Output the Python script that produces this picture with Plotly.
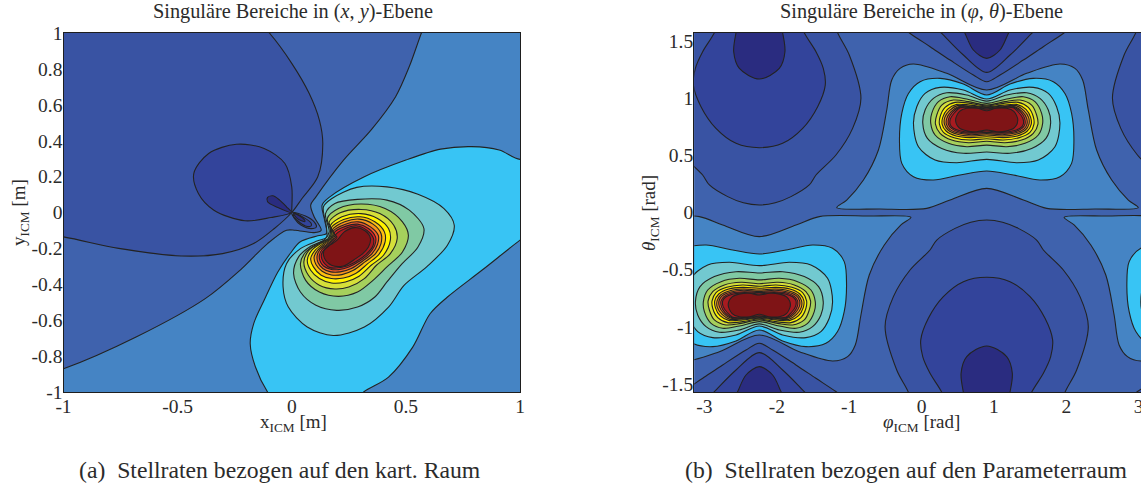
import math
import plotly.graph_objects as go

# ---------- text ----------
title_a = "Singuläre Bereiche in (<i>x</i>, <i>y</i>)-Ebene"
title_b = "Singuläre Bereiche in (<i>φ</i>, <i>θ</i>)-Ebene"
xlabel_a = "x<sub>ICM</sub> [m]"
ylabel_a = "y<sub>ICM</sub> [m]"
xlabel_b = "<i>φ</i><sub>ICM</sub> [rad]"
ylabel_b = "<i>θ</i><sub>ICM</sub> [rad]"
caption_a = "(a)  Stellraten bezogen auf den kart. Raum"
caption_b = "(b)  Stellraten bezogen auf den Parameterraum"

ticks_a_x = [-1, -0.5, 0, 0.5, 1]
ticks_a_y = [-1, -0.8, -0.6, -0.4, -0.2, 0, 0.2, 0.4, 0.6, 0.8, 1]
ticks_b_x = [-3, -2, -1, 0, 1, 2, 3]
ticks_b_y = [-1.5, -1, -0.5, 0, 0.5, 1, 1.5]

# ---------- level colours ----------
C_MID = "#4584c4"; C_B = "#3f62ad"; C_C = "#3953a3"; C_D = "#33449b"; C_E = "#2a2c80"
C_CYAN = "#38c4f4"; C_TEAL = "#72c9d0"; C_GREEN = "#80c9a4"; C_YGREEN = "#a6d05c"
C_LIME = "#d6df3a"; C_YELLOW = "#fff200"; C_AMBER = "#fdc010"; C_ORANGE = "#f7941d"
C_DKOR = "#f15a29"; C_RED = "#e31e24"; C_CRIM = "#a81b20"; C_PEAK = "#7f1416"

# ---------- panel (a): contour outlines in (x, y) metres ----------
a_b = [(.65,1.6),(.6,1.1),(.568,1),(.515,.813),(.455,.645),(.348,.46),(.227,.292),(.106,.087),(.083,.041),(.098,-.024),(.129,-.099),(.098,-.112),(.015,-.099),(-.023,-.099),(-.106,-.173),(-.227,-.322),(-.379,-.48),(-.682,-.694),(-1,-.871),(-1.3,-.98),(-1.6,-1.0),(-1.6,1.6)]
a_c = [(-.25,1.6),(-.16,1.08),(-.098,1),(0,.831),(.076,.664),(.121,.515),(.136,.385),(.114,.199),(.045,.078),(0,0),(-.076,-.089),(-.167,-.173),(-.303,-.229),(-.485,-.242),(-.758,-.2),(-1,-.136),(-1.3,-.08),(-1.6,-.05),(-1.6,1.6)]
a_d = [(0,.013),(0,.143),(-.03,.273),(-.121,.357),(-.242,.38),(-.364,.329),(-.429,.218),(-.409,.106),(-.341,.013),(-.205,-.046),(-.091,-.028),(0,0)]
a_e = [(0,0),(-.061,.028),(-.106,.06),(-.106,.084),(-.083,.093),(-.053,.069),(-.023,.032)]
a_loop1 = [(0,0),(.06,-.02),(.10,-.055),(.108,-.08),(.085,-.09),(.04,-.07),(.01,-.03)]
a_loop2 = [(.008,-.005),(.055,-.03),(.085,-.06),(.085,-.075),(.06,-.075),(.03,-.05),(.008,-.02)]
a_loop3 = [(.01,-.008),(.035,-.02),(.055,-.04),(.058,-.05),(.04,-.045),(.02,-.028)]
a_cyan = [(1.2,.1),(1.1,.33),(1,.296),(.909,.348),(.788,.367),(.652,.353),(.5,.292),(.318,.199),(.167,.087),(.133,.041),(.144,-.043),(.152,-.117),(.114,-.13),(.036,-.164),(-.006,-.227),(-.061,-.331),(-.121,-.489),(-.167,-.62),(-.182,-.731),(-.159,-.861),(-.106,-1),(-.04,-1.1),(.25,-1.08),(.315,-1),(.424,-.917),(.53,-.75),(.606,-.564),(.682,-.471),(.833,-.322),(1,-.154),(1.1,-.06)]
a_teal = [(.139,.032),(.176,.078),(.285,.14),(.417,.143),(.553,.102),(.667,.022),(.712,-.071),(.682,-.182),(.591,-.303),(.492,-.406),(.424,-.527),(.318,-.638),(.182,-.685),(.068,-.638),(-.015,-.527),(-.038,-.415),(-.023,-.285),(.038,-.201),(.114,-.158),(.152,-.139),(.152,-.08)]
a_green = [(.148,-.006),(.189,.05),(.288,.073),(.417,.069),(.515,.013),(.579,-.089),(.553,-.192),(.477,-.294),(.417,-.387),(.364,-.471),(.288,-.527),(.197,-.545),(.106,-.517),(.038,-.443),(.008,-.34),(.03,-.247),(.083,-.188),(.144,-.151),(.164,-.108)]
a_ygreen = [(.156,-.033),(.205,.022),(.303,.047),(.409,.022),(.485,-.052),(.511,-.127),(.485,-.22),(.417,-.303),(.356,-.378),(.288,-.443),(.205,-.467),(.121,-.443),(.061,-.378),(.038,-.285),(.061,-.22),(.114,-.173),(.159,-.145),(.17,-.099)]
a_lime = [(.164,-.052),(.212,-.002),(.303,.017),(.386,-.006),(.447,-.071),(.462,-.145),(.432,-.229),(.371,-.294),(.318,-.368),(.25,-.415),(.189,-.426),(.121,-.405),(.073,-.35),(.053,-.275),(.076,-.21),(.129,-.167),(.164,-.145),(.174,-.099)]
a_yellow = [(.17,-.071),(.22,-.024),(.303,-.006),(.376,-.033),(.424,-.089),(.432,-.154),(.402,-.238),(.348,-.294),(.295,-.355),(.235,-.387),(.174,-.393),(.121,-.368),(.083,-.322),(.068,-.266),(.088,-.21),(.133,-.169),(.17,-.145),(.177,-.108)]
a_amber = [(.174,-.084),(.227,-.039),(.3,-.024),(.364,-.052),(.406,-.108),(.409,-.164),(.382,-.233),(.333,-.285),(.28,-.34),(.227,-.365),(.174,-.368),(.129,-.35),(.095,-.303),(.083,-.257),(.103,-.21),(.139,-.173),(.171,-.147),(.182,-.113)]
a_orange = [(.179,-.095),(.232,-.052),(.295,-.037),(.356,-.065),(.391,-.117),(.391,-.173),(.367,-.229),(.321,-.275),(.27,-.322),(.22,-.346),(.174,-.348),(.133,-.327),(.106,-.29),(.098,-.247),(.114,-.21),(.144,-.177),(.174,-.149),(.185,-.121)]
a_dkor = [(.182,-.104),(.235,-.065),(.292,-.052),(.345,-.08),(.379,-.127),(.376,-.177),(.352,-.229),(.311,-.27),(.261,-.312),(.212,-.331),(.171,-.331),(.136,-.312),(.115,-.279),(.111,-.242),(.124,-.206),(.152,-.179),(.179,-.151),(.189,-.127)]
a_red = [(.186,-.113),(.238,-.076),(.288,-.065),(.336,-.089),(.367,-.136),(.364,-.182),(.336,-.233),(.298,-.27),(.25,-.303),(.205,-.318),(.17,-.316),(.139,-.298),(.124,-.27),(.121,-.238),(.133,-.206),(.159,-.179),(.182,-.154),(.194,-.132)]
a_crim = [(.192,-.125),(.235,-.089),(.283,-.074),(.329,-.099),(.358,-.145),(.355,-.188),(.326,-.233),(.291,-.266),(.242,-.298),(.197,-.309),(.167,-.307),(.144,-.285),(.132,-.26),(.13,-.233),(.142,-.206),(.167,-.179),(.186,-.158),(.198,-.138)]
a_peak = [(.205,-.145),(.23,-.108),(.276,-.084),(.321,-.102),(.345,-.145),(.336,-.192),(.311,-.229),(.28,-.257),(.227,-.298),(.174,-.294),(.144,-.257),(.141,-.214),(.167,-.182),(.189,-.164)]

# ---------- panel (b): outlines in (phi, theta) rad ----------
b_axis_phi = 0.9  # symmetry line of the upper peak
b_mid = [(-1.172,.042),(-1.034,.109),(-.803,.284),(-.596,.547),(-.481,.897),(-.412,1.159),(-.297,1.261),(-.113,1.299),(.348,1.218),(.9,1.072),(1.453,1.218),(1.913,1.299),(2.12,1.261),(2.226,1.159),(2.304,.897),(2.419,.547),(2.627,.284),(2.857,.109),(2.995,.042),(2.396,.031),(1.729,.036),(1.407,.109),(.9,.211),(.394,.109),(.071,.036),(-.573,.031)]
# right halves, from the top notch round to the bottom notch
b_cyan = [(.9,1.028),(1.222,1.124),(1.544,1.174),(1.82,1.145),(1.981,1.042),(2.073,.868),(2.105,.634),(2.073,.43),(1.912,.313),(1.636,.284),(1.268,.328),(.9,.363)]
b_teal = [(.9,.993),(1.222,1.072),(1.544,1.095),(1.751,1.042),(1.866,.926),(1.912,.78),(1.843,.576),(1.613,.459),(1.314,.436),(.9,.465)]
b_green = [(.9,.975),(1.176,1.028),(1.452,1.048),(1.636,.999),(1.751,.897),(1.783,.78),(1.719,.649),(1.521,.561),(1.222,.518),(.9,.529)]
b_ygreen = [(.9,.955),(1.176,.993),(1.406,1.013),(1.567,.97),(1.659,.868),(1.673,.78),(1.613,.678),(1.429,.605),(1.176,.576),(.9,.59)]
b_lime = [(.9,.94),(1.153,.97),(1.36,.984),(1.521,.94),(1.59,.853),(1.608,.774),(1.544,.693),(1.383,.634),(1.153,.611),(.9,.623)]
b_yellow = [(.9,.932),(1.13,.955),(1.337,.964),(1.475,.92),(1.544,.838),(1.553,.774),(1.498,.701),(1.351,.655),(1.13,.634),(.9,.646)]
b_amber = [(.9,.926),(1.13,.94),(1.314,.946),(1.443,.903),(1.507,.832),(1.516,.774),(1.461,.713),(1.323,.669),(1.13,.655),(.9,.663)]
b_orange = [(.9,.92),(1.13,.932),(1.305,.935),(1.415,.891),(1.48,.83),(1.484,.774),(1.434,.722),(1.305,.684),(1.121,.669),(.9,.678)]
b_dkor = [(.9,.914),(1.107,.926),(1.291,.926),(1.392,.882),(1.452,.824),(1.457,.774),(1.411,.728),(1.291,.695),(1.116,.681),(.9,.69)]
b_red = [(.9,.908),(1.107,.92),(1.282,.92),(1.374,.876),(1.424,.824),(1.429,.774),(1.388,.736),(1.277,.704),(1.107,.693),(.9,.701)]
b_crim = [(.9,.903),(1.084,.917),(1.268,.917),(1.346,.873),(1.401,.821),(1.406,.774),(1.365,.739),(1.259,.713),(1.102,.701),(.9,.713)]
b_peak = [(.9,.891),(1.029,.912),(1.176,.912),(1.275,.885),(1.33,.81),(1.28,.74),(1.167,.712),(1.038,.707),(.9,.722)]
# lobes, right halves, run out past the top / bottom of the frame
b_top_c = [(.9,1.144),(1.084,1.203),(1.406,1.334),(1.682,1.451),(1.958,1.567),(2.142,1.654),(2.3,1.9),(.9,1.9)]
b_top_d = [(.9,1.226),(1.222,1.378),(1.521,1.567),(1.682,1.669),(1.7,1.9),(.9,1.9)]
b_top_e = [(.9,1.349),(1.084,1.422),(1.199,1.567),(1.291,1.684),(1.3,1.9),(.9,1.9)]
b_low_c = [(.9,-.066),(1.12,-.085),(1.337,-.139),(1.59,-.241),(1.683,-.328),(1.959,-.503),(2.189,-.736),(2.304,-.999),(2.143,-1.378),(1.982,-1.573),(1.867,-1.786),(1.5,-1.9),(.9,-1.9)]
b_low_d = [(.9,-.567),(1.222,-.605),(1.499,-.736),(1.706,-.926),(1.811,-1.115),(1.784,-1.261),(1.683,-1.407),(1.521,-1.573),(1.406,-1.757),(1.2,-1.9),(.9,-1.9)]
b_low_e = [(.9,-1.168),(1.176,-1.261),(1.254,-1.407),(1.222,-1.573),(1.176,-1.7),(.9,-1.9)]

LINE = "#232323"


def add(fig, pts, color, xa, ya, closed=True):
    xs = [p[0] for p in pts]
    ys = [p[1] for p in pts]
    if closed:
        xs.append(xs[0]); ys.append(ys[0])
    fig.add_trace(go.Scatter(x=xs, y=ys, mode="lines", fill="toself", fillcolor=color,
                             line=dict(color=LINE, width=1.1, shape="spline", smoothing=0.9),
                             hoverinfo="skip", showlegend=False, xaxis=xa, yaxis=ya))


def whole(half):
    """Close a right half ring with its mirror image about the symmetry line."""
    return list(half) + [(2 * b_axis_phi - x, y) for x, y in reversed(half[1:-1])]


fig = go.Figure()

a_layers = [(a_b, C_B), (a_c, C_C), (a_d, C_D), (a_e, C_E), (a_loop1, C_C), (a_loop2, C_D), (a_loop3, C_E),
            (a_cyan, C_CYAN), (a_teal, C_TEAL), (a_green, C_GREEN), (a_ygreen, C_YGREEN), (a_lime, C_LIME),
            (a_yellow, C_YELLOW), (a_amber, C_AMBER), (a_orange, C_ORANGE), (a_dkor, C_DKOR),
            (a_red, C_RED), (a_crim, C_CRIM), (a_peak, C_PEAK)]
for pts, col in a_layers:
    add(fig, pts, col, "x", "y")

b_layers = [(whole(b_low_c), C_C), (whole(b_low_d), C_D), (whole(b_low_e), C_E),
            (whole(b_top_c), C_C), (whole(b_top_d), C_D), (whole(b_top_e), C_E),
            (b_mid, C_MID), (whole(b_cyan), C_CYAN), (whole(b_teal), C_TEAL), (whole(b_green), C_GREEN),
            (whole(b_ygreen), C_YGREEN), (whole(b_lime), C_LIME), (whole(b_yellow), C_YELLOW),
            (whole(b_amber), C_AMBER), (whole(b_orange), C_ORANGE), (whole(b_dkor), C_DKOR),
            (whole(b_red), C_RED), (whole(b_crim), C_CRIM), (whole(b_peak), C_PEAK)]
for pts, col in b_layers:
    add(fig, pts, col, "x2", "y2")
    add(fig, [(x - math.pi, -y) for x, y in pts], col, "x2", "y2")
    add(fig, [(x + math.pi, -y) for x, y in pts], col, "x2", "y2")

W, H = 1141, 489
TXT = "#2b2b2b"
tickfont = dict(family="Liberation Serif", size=19.5, color=TXT)


def ax(rng, dom, vals, anchor, **kw):
    return dict(range=rng, domain=dom, tickvals=vals, ticktext=[str(v) for v in vals], anchor=anchor,
                showgrid=False, zeroline=False, showline=True, linecolor="#1e1e1e", linewidth=1.4,
                ticks="", tickfont=tickfont, automargin=False, ticklabeloverflow="allow", **kw)


fig.update_layout(
    width=W, height=H, autosize=False, margin=dict(l=0, r=0, t=0, b=0),
    paper_bgcolor="white", plot_bgcolor=C_MID,
    xaxis=ax([-1, 1], [63.5 / W, 520 / W], ticks_a_x, "y", mirror=True, ticklabelstandoff=-4),
    yaxis=ax([-1, 1], [(H - 392) / H, (H - 33) / H], ticks_a_y, "x", mirror=True, ticklabelstandoff=-4),
    xaxis2=ax([-3.14, 3.032], [694.3 / W, 1.0], ticks_b_x, "y2", mirror=True, ticklabelstandoff=-4),
    yaxis2=ax([-math.pi / 2, math.pi / 2], [(H - 392) / H, (H - 33) / H], ticks_b_y, "x2", ticklabelstandoff=-4),
)
fig.update_layout(shapes=[dict(type="rect", xref="x2 domain", yref="y2 domain", x0=0, x1=1, y0=0, y1=1,
                               fillcolor=C_B, line=dict(width=0), layer="below")])


def note(text, px, py, size, angle=0):
    return dict(text=text, x=px / W, y=1 - py / H, xref="paper", yref="paper", showarrow=False,
                xanchor="center", yanchor="middle", textangle=angle,
                font=dict(family="Liberation Serif", size=size, color=TXT))


fig.update_layout(annotations=[
    note(title_a, 293, 12, 20.3), note(title_b, 921, 12, 20.3),
    note(xlabel_a, 293, 423, 19), note(xlabel_b, 921, 423, 19),
    note(ylabel_a, 20, 213, 19, -90), note(ylabel_b, 650, 213, 19, -90),
    note(caption_a, 279.5, 470, 23.7), note(caption_b, 906.5, 470, 23.7),
])

fig.write_html("out.html", config=dict(displayModeBar=False),
               post_script="document.body.style.margin='0';document.body.style.overflow='hidden';")
